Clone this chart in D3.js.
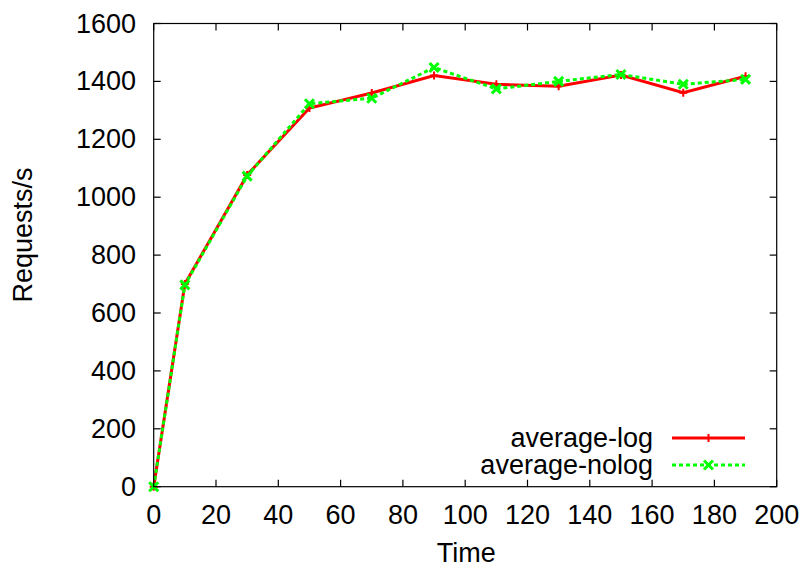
<!DOCTYPE html>
<html>
<head>
<meta charset="utf-8">
<script src="https://cdn.jsdelivr.net/npm/d3@7"></script>
<style>
  html, body { margin: 0; padding: 0; background: #fff; }
  svg text { font-family: "Liberation Sans", Arial, Helvetica, sans-serif; fill: #000; }
</style>
</head>
<body>
<svg id="chart" width="807" height="567"></svg>
<script>
const times = [0, 10, 30, 50, 70, 90, 110, 130, 150, 170, 190];
const averageLog = [0, 700, 1077, 1308, 1360, 1420, 1390, 1383, 1422, 1361, 1418];
const averageNolog = [0, 697, 1073, 1323, 1342, 1448, 1374, 1400, 1424, 1390, 1407];
const xTicks = [0, 20, 40, 60, 80, 100, 120, 140, 160, 180, 200];
const yTicks = [0, 200, 400, 600, 800, 1000, 1200, 1400, 1600];
const seriesNames = ["average-log", "average-nolog"];

const svg = d3.select("#chart");
const pLeft = 153.7, pRight = 776.7, pTop = 23.5, pBottom = 486.7;
const x = d3.scaleLinear().domain([0, 200]).range([pLeft, pRight]);
const y = d3.scaleLinear().domain([0, 1600]).range([pBottom, pTop]);
const fs = 27;

// ticks (inside, mirrored)
const tickLen = 7;
const g = svg.append("g").attr("stroke", "#000").attr("stroke-width", 1.2);
yTicks.forEach(v => {
  g.append("line").attr("x1", pLeft).attr("x2", pLeft + tickLen).attr("y1", y(v)).attr("y2", y(v));
  g.append("line").attr("x1", pRight).attr("x2", pRight - tickLen).attr("y1", y(v)).attr("y2", y(v));
});
xTicks.forEach(v => {
  g.append("line").attr("x1", x(v)).attr("x2", x(v)).attr("y1", pBottom).attr("y2", pBottom - tickLen);
  g.append("line").attr("x1", x(v)).attr("x2", x(v)).attr("y1", pTop).attr("y2", pTop + tickLen);
});

// tick labels
svg.append("g").selectAll("text").data(yTicks).join("text")
  .attr("x", 136).attr("y", d => y(d)).attr("text-anchor", "end")
  .attr("dominant-baseline", "central").attr("font-size", fs).text(d => d);
svg.append("g").selectAll("text").data(xTicks).join("text")
  .attr("x", d => x(d)).attr("y", 515).attr("text-anchor", "middle")
  .attr("dominant-baseline", "central").attr("font-size", fs).text(d => d);

// axis titles
svg.append("text").attr("x", (pLeft + pRight) / 2 + 1).attr("y", 553)
  .attr("text-anchor", "middle").attr("dominant-baseline", "central")
  .attr("font-size", fs).text("Time");
svg.append("text").attr("transform", "translate(23,235) rotate(-90)")
  .attr("text-anchor", "middle").attr("dominant-baseline", "central")
  .attr("font-size", fs).text("Requests/s");

const line = d3.line().x(d => x(d[0])).y(d => y(d[1]));
const logData = times.map((t, i) => [t, averageLog[i]]);
const nologData = times.map((t, i) => [t, averageNolog[i]]);

function plus(sel, cx, cy, color) {
  const s = 4;
  sel.append("path").attr("d", `M${cx - s},${cy}H${cx + s}M${cx},${cy - s}V${cy + s}`)
    .attr("stroke", color).attr("stroke-width", 2).attr("fill", "none");
}
function cross(sel, cx, cy, color) {
  const s = 4.5;
  sel.append("path").attr("d", `M${cx - s},${cy - s}L${cx + s},${cy + s}M${cx - s},${cy + s}L${cx + s},${cy - s}`)
    .attr("stroke", color).attr("stroke-width", 3).attr("fill", "none");
}

const red = "#ff0000", green = "#00ff00";

// series 1
const s1 = svg.append("g");
s1.append("path").datum(logData).attr("d", line).attr("fill", "none")
  .attr("stroke", red).attr("stroke-width", 3).attr("stroke-linejoin", "miter");
logData.forEach(d => plus(s1, x(d[0]), y(d[1]), red));

// series 2
const s2 = svg.append("g");
s2.append("path").datum(nologData).attr("d", line).attr("fill", "none")
  .attr("stroke", green).attr("stroke-width", 3).attr("stroke-dasharray", "4,3");
nologData.forEach(d => cross(s2, x(d[0]), y(d[1]), green));

// legend
const legY = [438, 465];
const legColors = [red, green];
seriesNames.forEach((name, i) => {
  svg.append("text").attr("x", 653).attr("y", legY[i]).attr("text-anchor", "end")
    .attr("dominant-baseline", "central").attr("font-size", fs).text(name);
  const lg = svg.append("g");
  lg.append("line").attr("x1", 672).attr("x2", 745).attr("y1", legY[i]).attr("y2", legY[i])
    .attr("stroke", legColors[i]).attr("stroke-width", 3)
    .attr("stroke-dasharray", i === 1 ? "4,3" : null);
  if (i === 0) plus(lg, 708.5, legY[i], red); else cross(lg, 708.5, legY[i], green);
});

// frame
svg.append("rect").attr("x", pLeft).attr("y", pTop).attr("width", pRight - pLeft)
  .attr("height", pBottom - pTop).attr("fill", "none").attr("stroke", "#000").attr("stroke-width", 1.2);
</script>
</body>
</html>
